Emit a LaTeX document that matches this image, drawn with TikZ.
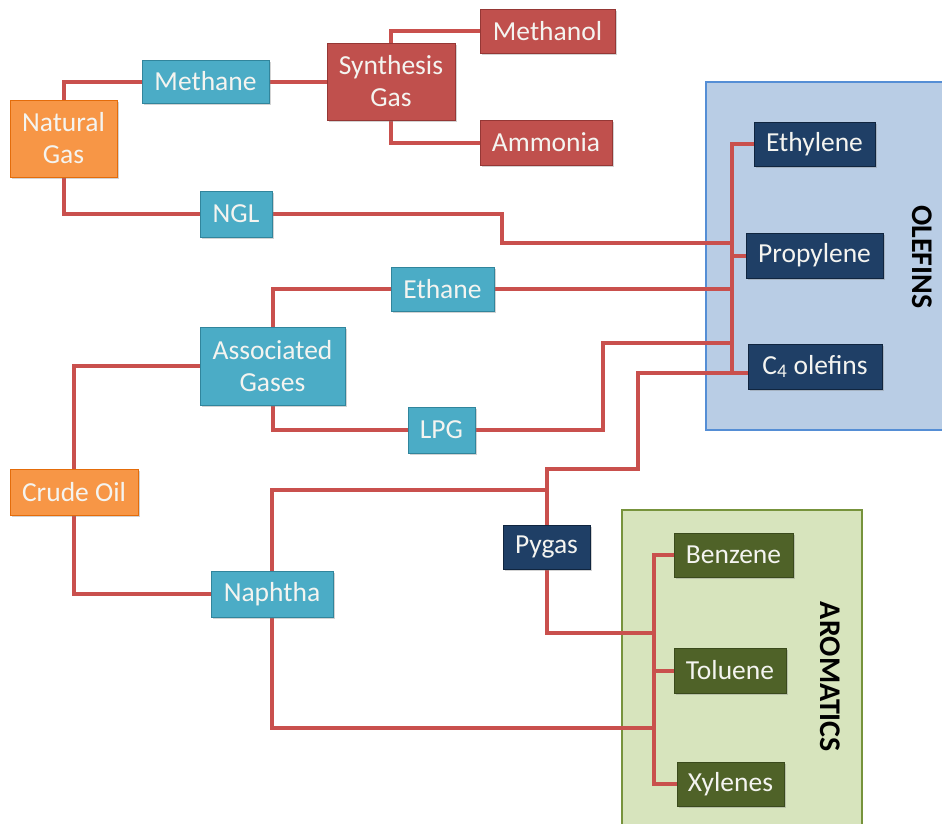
\documentclass[tikz,border=0pt]{standalone}
\usepackage{fontspec}
\setmainfont{Carlito}
\usetikzlibrary{shadows,calc}
\definecolor{orng}{HTML}{F79646}
\definecolor{orngD}{HTML}{E46C0A}
\definecolor{cyn}{HTML}{4BACC6}
\definecolor{cynD}{HTML}{31859C}
\definecolor{rd}{HTML}{C0504D}
\definecolor{rdD}{HTML}{953735}
\definecolor{nvy}{HTML}{1F3F66}
\definecolor{nvyD}{HTML}{10253F}
\definecolor{grn}{HTML}{4F6228}
\definecolor{grnD}{HTML}{3A4A1C}
\definecolor{olebg}{HTML}{B9CDE5}
\definecolor{olebd}{HTML}{558ED5}
\definecolor{arobg}{HTML}{D7E4BD}
\definecolor{arobd}{HTML}{77933C}
\definecolor{conncol}{HTML}{C9504D}
\definecolor{boxtext}{HTML}{F4F4F0}
\pgfdeclarelayer{bg}
\pgfdeclarelayer{lines}
\pgfsetlayers{bg,lines,main}
\tikzset{
  box/.style={inner sep=0pt, align=center, text=boxtext, line width=0.8pt,
    font=\fontsize{27.5}{32}\selectfont,
    drop shadow={shadow xshift=2pt, shadow yshift=-2pt, opacity=0.35}},
  orangebox/.style={box, fill=orng, draw=orngD},
  cyanbox/.style={box, fill=cyn, draw=cynD},
  redbox/.style={box, fill=rd, draw=rdD},
  navybox/.style={box, fill=nvy, draw=nvyD},
  greenbox/.style={box, fill=grn, draw=grnD},
  conn/.style={draw=conncol, line width=4pt},
  grouplabel/.style={font=\bfseries\fontsize{30}{34}\selectfont, rotate=-90, text=black}
}
\begin{document}
\begin{tikzpicture}[x=1pt,y=-1pt]
\useasboundingbox (0,0) rectangle (942,823);
% nodes
\node[orangebox, minimum width=107pt, minimum height=77pt] (ng) at (63.5,138.5) {Natural\\Gas};
\node[cyanbox, minimum width=127pt, minimum height=43pt] (methane) at (205.5,81.5) {Methane};
\node[redbox, minimum width=128pt, minimum height=77pt] (syn) at (391,81.5) {Synthesis\\Gas};
\node[redbox, minimum width=135pt, minimum height=44pt] (methanol) at (547.5,31) {Methanol};
\node[redbox, minimum width=132pt, minimum height=45pt] (ammonia) at (546,142.5) {Ammonia};
\node[cyanbox, minimum width=72pt, minimum height=46pt] (ngl) at (236,214) {NGL};
\node[cyanbox, minimum width=103pt, minimum height=44pt] (ethane) at (442.5,289) {Ethane};
\node[cyanbox, minimum width=145pt, minimum height=78pt] (assoc) at (272.5,366) {Associated\\Gases};
\node[cyanbox, minimum width=67pt, minimum height=46pt] (lpg) at (441.5,430) {LPG};
\node[orangebox, minimum width=128pt, minimum height=46pt] (crude) at (74,492) {Crude Oil};
\node[cyanbox, minimum width=122pt, minimum height=46pt] (naphtha) at (272,594) {Naphtha};
\node[navybox, minimum width=87pt, minimum height=44pt] (pygas) at (546.5,547) {Pygas};
\node[navybox, minimum width=121pt, minimum height=44pt] (ethylene) at (814.5,144) {Ethylene};
\node[navybox, minimum width=137pt, minimum height=45pt] (propylene) at (814.5,255.5) {Propylene};
\node[navybox, minimum width=134pt, minimum height=45pt] (c4) at (815,366.5) {C\textsubscript{4} olefins};
\node[greenbox, minimum width=119pt, minimum height=44pt] (benzene) at (733.5,555) {Benzene};
\node[greenbox, minimum width=112pt, minimum height=45pt] (toluene) at (730,670.5) {Toluene};
\node[greenbox, minimum width=107pt, minimum height=44pt] (xylenes) at (730.5,784) {Xylenes};
\node[grouplabel] (olelabel) at (922,257) {OLEFINS};
\node[grouplabel] (arolabel) at (830,677) {AROMATICS};
% helper coordinates
\coordinate (obus) at (732,0);
\coordinate (abus) at (654,0);
\coordinate (nglstep) at (502,243);
\coordinate (lpgstep) at (603,343);
\coordinate (pystep) at (638,469);
\coordinate (naptop) at (0,490);
\coordinate (pybot) at (0,633);
\coordinate (napbot) at (0,728);
\coordinate (c4in) at ($(c4.west)+(0,6)$);
% group boxes
\begin{pgfonlayer}{bg}
\fill[olebg, draw=olebd, line width=2pt] (706,82) rectangle (946,430);
\fill[arobg, draw=arobd, line width=2pt] (622,510) rectangle (862,826);
\end{pgfonlayer}
% connectors
\begin{pgfonlayer}{lines}
\draw[conn] (ng.north) |- (methane.west);
\draw[conn] (methane.east) -- (syn.west);
\draw[conn] (syn.north) |- (methanol.west);
\draw[conn] (syn.south) |- (ammonia.west);
\draw[conn] (ng.south) |- (ngl.west);
\draw[conn] (ngl.east) -| (nglstep) -- (nglstep -| obus);
\draw[conn] (ethylene.west) -- (ethylene.west -| obus) -- (c4in -| obus) -- (c4in);
\draw[conn] (propylene.west) -- (propylene.west -| obus);
\draw[conn] (ethane.east) -- (ethane.east -| obus);
\draw[conn] (assoc.north) |- (ethane.west);
\draw[conn] (assoc.west) -| (crude.north);
\draw[conn] (assoc.south) |- (lpg.west);
\draw[conn] (lpg.east) -| (lpgstep) -- (lpgstep -| obus);
\draw[conn] (crude.south) |- (naphtha.west);
\draw[conn] (naphtha.north) |- (pygas.north |- naptop);
\draw[conn] (pygas.north) |- (pystep) |- (c4in);
\draw[conn] (pygas.south) |- (abus |- pybot);
\draw[conn] (naphtha.south) |- (abus |- napbot);
\draw[conn] (benzene.west) -- (benzene.west -| abus) -- (xylenes.west -| abus) -- (xylenes.west);
\draw[conn] (toluene.west) -- (toluene.west -| abus);
\end{pgfonlayer}
\end{tikzpicture}
\end{document}
